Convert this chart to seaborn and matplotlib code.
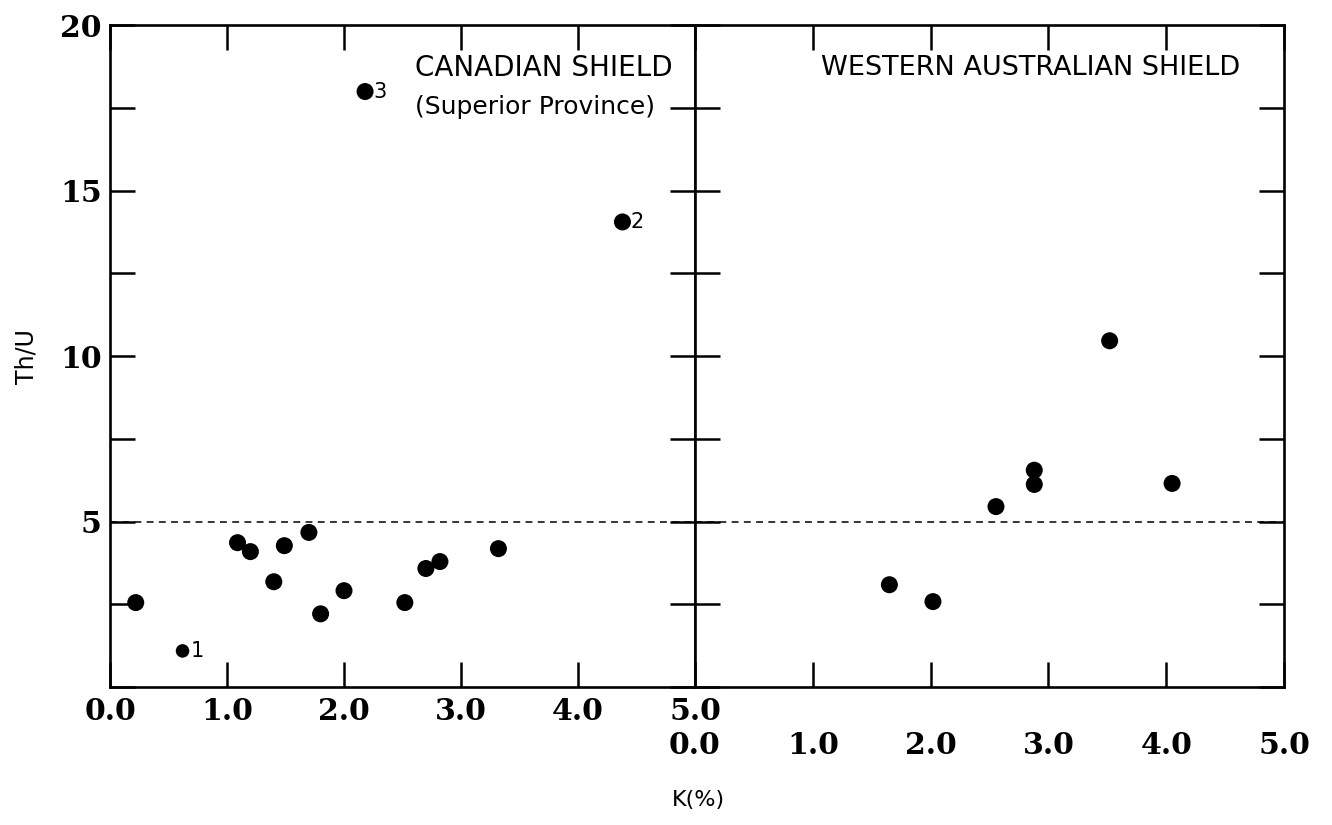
import numpy as np
import pandas as pd
import matplotlib
matplotlib.use("Agg")
import matplotlib.pyplot as plt
import seaborn as sns

# ---- data -------------------------------------------------------------
# Canadian Shield (Superior Province): K (%) and Th/U
canada_k = [0.22, 0.62, 1.09, 1.20, 1.40, 1.49, 1.70, 1.80, 2.00, 2.52, 2.70, 2.82, 3.32, 4.38, 2.18]
canada_thu = [2.55, 1.09, 4.36, 4.09, 3.18, 4.27, 4.67, 2.21, 2.91, 2.55, 3.58, 3.79, 4.18, 14.05, 17.99]
canada_tag = ["", "1", "", "", "", "", "", "", "", "", "", "", "", "2", "3"]
canada_size = ["normal", "small", "normal", "normal", "normal", "normal", "normal", "normal",
               "normal", "normal", "normal", "normal", "normal", "normal", "normal"]

# Western Australian Shield
wa_k = [1.65, 2.02, 2.555, 2.88, 2.88, 3.52, 4.05]
wa_thu = [3.09, 2.58, 5.45, 6.12, 6.55, 10.46, 6.15]

threshold = 5.0
x_ticks = [0, 1, 2, 3, 4, 5]
x_tick_labels = ["0.0", "1.0", "2.0", "3.0", "4.0", "5.0"]
y_ticks = [0, 2.5, 5, 7.5, 10, 12.5, 15, 17.5, 20]
y_tick_labels = ["", "", "5", "", "10", "", "15", "", "20"]

canada = pd.DataFrame({"K": canada_k, "ThU": canada_thu, "tag": canada_tag, "sz": canada_size})
wa = pd.DataFrame({"K": wa_k, "ThU": wa_thu, "sz": ["normal"] * len(wa_k)})

# ---- style ------------------------------------------------------------
sns.set_theme(style="white")
plt.rcParams["font.family"] = ["DejaVu Sans"]
plt.rcParams.update({
    "axes.linewidth": 1.9,
    "text.color": "black",
    "axes.labelcolor": "black",
    "xtick.color": "black",
    "ytick.color": "black",
    "axes.edgecolor": "black",
})

W, H = 1332, 825
fig = plt.figure(figsize=(W / 100, H / 100), dpi=100)
ax1 = fig.add_axes([110 / W, 1 - 687 / H, 585 / W, 662 / H])
ax2 = fig.add_axes([695 / W, 1 - 687 / H, 589 / W, 662 / H])

sizes = {"normal": 150, "small": 95}
sns.scatterplot(data=canada, x="K", y="ThU", size="sz", sizes=sizes, color="black",
                edgecolor="none", legend=False, ax=ax1)
sns.scatterplot(data=wa, x="K", y="ThU", size="sz", sizes=sizes, color="black",
                edgecolor="none", legend=False, ax=ax2)

tick_font = dict(family="DejaVu Serif", weight="bold", size=21.5, color="black")

for ax in (ax1, ax2):
    ax.set_xlim(0, 5)
    ax.set_ylim(0, 20)
    ax.set_xlabel("")
    ax.set_ylabel("")
    ax.axhline(threshold, color="black", lw=1.1, ls=(0, (4.5, 3.5)))
    for s in ax.spines.values():
        s.set_visible(True)
        s.set_color("black")
        s.set_linewidth(1.9)
    ax.set_xticks(x_ticks)
    ax.set_yticks(y_ticks)
    ax.tick_params(axis="both", direction="in", length=18, width=1.8, color="black",
                   top=True, bottom=True, left=True, right=True)

ax1.set_xticklabels(x_tick_labels, fontdict=tick_font)
ax1.set_yticklabels(y_tick_labels, fontdict=tick_font)
ax1.tick_params(axis="x", pad=7)
ax1.tick_params(axis="y", pad=6)

ax2.set_xticklabels(x_tick_labels, fontdict=tick_font)
ax2.set_yticklabels([])
ax2.tick_params(axis="x", pad=32)
ax2.tick_params(axis="y", labelleft=False)

# numbered samples
for _, r in canada[canada["tag"] != ""].iterrows():
    ax1.annotate(r["tag"], (r["K"], r["ThU"]), xytext=(6, 0), textcoords="offset points",
                 ha="left", va="center", fontsize=15, color="black")

# panel titles
ax1.text(0.521, 0.935, "CANADIAN SHIELD", transform=ax1.transAxes, ha="left", va="center",
         fontsize=20, color="black")
ax1.text(0.521, 0.876, "(Superior Province)", transform=ax1.transAxes, ha="left", va="center",
         fontsize=18, color="black")
ax2.text(0.925, 0.935, "WESTERN AUSTRALIAN SHIELD", transform=ax2.transAxes, ha="right",
         va="center", fontsize=19.5, color="black")

# axis titles
fig.text(26 / W, 1 - 357 / H, "Th/U", rotation=90, ha="center", va="center", fontsize=17,
         color="black")
fig.text(698 / W, 1 - 800 / H, "K(%)", ha="center", va="center", fontsize=16, color="black")

fig.savefig("out.png", dpi=100, facecolor="white")
